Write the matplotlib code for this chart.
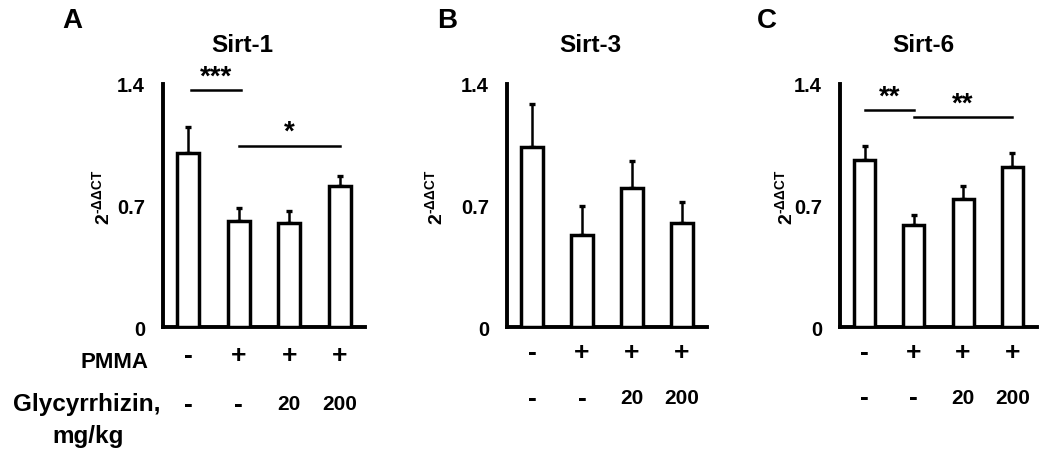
import matplotlib
matplotlib.use("Agg")
import matplotlib.pyplot as plt

plt.rcParams['font.family'] = ['Liberation Sans', 'DejaVu Sans']
plt.rcParams['font.weight'] = 'bold'
plt.rcParams['mathtext.fontset'] = 'custom'
plt.rcParams['mathtext.rm'] = 'Liberation Sans:bold'
plt.rcParams['mathtext.bf'] = 'Liberation Sans:bold'
plt.rcParams['mathtext.it'] = 'Liberation Sans:bold'

# ---- data ----
groups = [0, 1, 2, 3]
pmma_labels = ['-', '+', '+', '+']
glyc_labels = ['-', '-', '20', '200']
titles = ['Sirt-1', 'Sirt-3', 'Sirt-6']
letters = ['A', 'B', 'C']
sirt1_mean = [1.00, 0.61, 0.60, 0.81]
sirt1_err = [0.15, 0.075, 0.07, 0.06]
sirt3_mean = [1.035, 0.53, 0.80, 0.60]
sirt3_err = [0.25, 0.165, 0.155, 0.12]
sirt6_mean = [0.96, 0.585, 0.735, 0.92]
sirt6_err = [0.085, 0.06, 0.075, 0.085]
yticks = [0, 0.7, 1.4]
ytick_labels = ['0', '0.7', '1.4']
# significance brackets: (x_start, x_end, y, label)
sig_A = [(0.05, 1.05, 1.365, '***'), (1.0, 3.0, 1.043, '*')]
sig_B = []
sig_C = [(0.0, 1.0, 1.25, '**'), (1.0, 3.0, 1.209, '**')]

means = [sirt1_mean, sirt3_mean, sirt6_mean]
errs = [sirt1_err, sirt3_err, sirt6_err]
sigs = [sig_A, sig_B, sig_C]

W, H = 1050, 456
fig = plt.figure(figsize=(W / 100, H / 100), dpi=100)

def px(x, y):
    return x / W, 1 - y / H

ax_left = [163, 507, 840]
ax_right = [365, 707, 1037]
ax_top, ax_bottom = 85, 328
letter_x = [72, 447, 767]
title_x = [242, 590, 923]
ylab_x = [102, 435, 785]
row1_y = [356, 353, 353]
row2_y = [405, 399, 398]

for i in range(3):
    l, r = ax_left[i], ax_right[i]
    ax = fig.add_axes([l / W, 1 - ax_bottom / H, (r - l) / W, (ax_bottom - ax_top) / H])
    ax.bar(groups, means[i], width=0.43, color='white', edgecolor='black',
           linewidth=2.5, zorder=3)
    ax.errorbar(groups, means[i], yerr=[[0] * 4, errs[i]], fmt='none',
                ecolor='black', elinewidth=1.8, capsize=2.5, capthick=2.4, zorder=2)
    ax.set_xlim(-0.5, 3.5)
    ax.set_ylim(0, 1.4)
    for s in ['top', 'right']:
        ax.spines[s].set_visible(False)
    for s in ['left', 'bottom']:
        ax.spines[s].set_linewidth(2.8)
    ax.set_xticks([])
    ax.set_yticks(yticks)
    ax.set_yticklabels(ytick_labels, fontsize=14.5, fontweight='bold')
    ax.tick_params(axis='y', length=0, pad=13)
    for (x0, x1, y, lab) in sigs[i]:
        ax.plot([x0, x1], [y, y], color='black', lw=1.8, clip_on=False)
        ax.text((x0 + x1) / 2, y + 0.005, lab, ha='center', va='bottom',
                fontsize=20, fontweight='bold')
    # row labels beneath axes
    trans = ax.get_xaxis_transform()
    for g, p, c in zip(groups, pmma_labels, glyc_labels):
        ax.text(g, -(row1_y[i] - ax_bottom) / (ax_bottom - ax_top), p, transform=trans,
                ha='center', va='center', fontsize=19, fontweight='bold')
        fs = 19 if c == '-' else 15
        ax.text(g, -(row2_y[i] - ax_bottom) / (ax_bottom - ax_top), c, transform=trans,
                ha='center', va='center', fontsize=fs, fontweight='bold')
    fig.text(*px(title_x[i], 45), titles[i], ha='center', va='center',
             fontsize=17.5, fontweight='bold')
    fig.text(*px(letter_x[i], 21), letters[i], ha='center', va='center',
             fontsize=20, fontweight='bold')
    fig.text(*px(ylab_x[i], 197), r'$\mathbf{2^{\text{-}\Delta\Delta CT}}$', rotation=90,
             ha='center', va='center', fontsize=14)

fig.text(*px(148, 362), 'PMMA', ha='right', va='center', fontsize=16, fontweight='bold')
fig.text(*px(161, 405), 'Glycyrrhizin,', ha='right', va='center', fontsize=17.5, fontweight='bold')
fig.text(*px(88, 437), 'mg/kg', ha='center', va='center', fontsize=17.5, fontweight='bold')

fig.savefig('out.png', dpi=100)
